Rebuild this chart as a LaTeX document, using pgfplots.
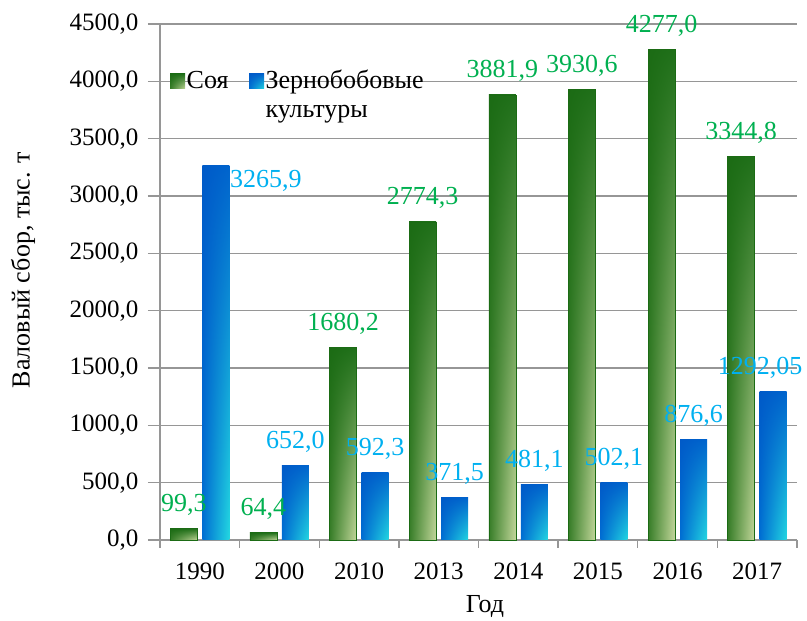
\documentclass[border=0pt]{standalone}
\usepackage{fontspec}
\setmainfont{Liberation Serif}
\usepackage{pgfplots}
\pgfplotsset{compat=1.18}
\usepackage{pgfplotstable}

\definecolor{gridgray}{RGB}{150,150,150}
\definecolor{lblgreen}{RGB}{0,176,80}
\definecolor{lblblue}{RGB}{0,176,240}
\definecolor{gDark}{RGB}{27,107,20}

% bilinear shadings: stack t s -> channel
\pgfdeclarefunctionalshading{greenbar}{\pgfpoint{-50bp}{-50bp}}{\pgfpoint{50bp}{50bp}}{}{
  25 add 50 div exch 25 add 50 div
  2 copy mul -0.530 mul 2 index -0.110 mul add 1 index 0.549 mul add 0.216 add 3 1 roll
  2 copy mul -0.334 mul 2 index -0.070 mul add 1 index 0.353 mul add 0.490 add 3 1 roll
  2 copy mul -0.427 mul 2 index -0.079 mul add 1 index 0.451 mul add 0.157 add 3 1 roll
  pop pop
}
\pgfdeclarefunctionalshading{bluebar}{\pgfpoint{-50bp}{-50bp}}{\pgfpoint{50bp}{50bp}}{}{
  25 add 50 div exch 25 add 50 div
  2 copy mul -0.137 mul 2 index 0.000 mul add 1 index 0.137 mul add 0.000 add 3 1 roll
  2 copy mul -0.373 mul 2 index -0.078 mul add 1 index 0.412 mul add 0.431 add 3 1 roll
  2 copy mul -0.038 mul 2 index -0.040 mul add 1 index 0.058 mul add 0.824 add 3 1 roll
  pop pop
}

\pgfplotstableread{
x y lab
0 99.3 99,3
1 64.4 64,4
2 1680.2 1680,2
3 2774.3 2774,3
4 3881.9 3881,9
5 3930.6 3930,6
6 4277.0 4277,0
7 3344.8 3344,8
}\soy

\pgfplotstableread{
x y lab
0 3265.9 3265,9
1 652.0 652,0
2 592.3 592,3
3 371.5 371,5
4 481.1 481,1
5 502.1 502,1
6 876.6 876,6
7 1292.05 1292,05
}\legumes

\pgfplotsset{
  soybar/.style={ybar, bar width=27pt, bar shift=-16pt, draw=gDark, line width=0.6pt,
    shading=greenbar, forget plot, point meta=explicit symbolic,
    nodes near coords={\pgfplotspointmeta},
    nodes near coords style={font=\rmfamily\fontsize{26}{30}\selectfont, text=lblgreen, anchor=base, xshift=-16pt, yshift=17pt}},
  legbar/.style={ybar, bar width=27pt, bar shift=16pt, draw=none,
    shading=bluebar, forget plot, point meta=explicit symbolic,
    nodes near coords={\pgfplotspointmeta},
    nodes near coords style={font=\rmfamily\fontsize{26}{30}\selectfont, text=lblblue, anchor=base, xshift=16pt, yshift=17pt}},
}

\begin{document}
\begin{tikzpicture}
\begin{axis}[
  scale only axis,
  width=637pt, height=516pt,
  ymin=0, ymax=4500, ytick={0,500,...,4500},
  xmin=-0.5, xmax=7.5,
  xtick={0,...,7},
  xticklabels={1990,2000,2010,2013,2014,2015,2016,2017},
  major x tick style={draw=none},
  minor xtick={-0.5,0.5,...,7.5},
  minor x tick style={draw=gridgray, line width=1.3pt},
  minor tick length=8pt,
  major tick length=12pt,
  tick align=outside,
  ytick style={draw=gridgray, line width=1.3pt},
  axis x line*=bottom, axis y line*=left,
  axis line style={draw=gridgray, line width=1.3pt, -},
  ymajorgrids,
  grid style={draw=gridgray, line width=1.3pt},
  yticklabel={\pgfmathprintnumber[assume math mode=true, fixed, fixed zerofill, precision=1, use comma, 1000 sep={}]{\tick}},
  /pgf/number format/assume math mode=true,
  tick label style={font=\rmfamily\fontsize{25}{30}\selectfont},
  yticklabel style={xshift=-6pt},
  xticklabel style={yshift=-7pt},
  xlabel={Год}, ylabel={Валовый сбор, тыс. т},
  label style={font=\rmfamily\fontsize{26}{31}\selectfont},
  xlabel style={at={(axis description cs:0.51,0)}, anchor=base, yshift=-73pt},
  ylabel style={at={(axis description cs:-0.215,0.523)}, anchor=center, rotate=0},
  clip=false,
  legend columns=2,
  legend style={draw=none, fill=none, inner sep=0pt,
    at={(axis description cs:0.0157,0.917)}, anchor=north west,
    font=\rmfamily\fontsize{26}{29}\selectfont,
    nodes={inner sep=1.5pt},
    cells={anchor=base west},
    /tikz/column 2/.style={column sep=19pt}},
  legend image code/.code={\path[#1, draw=none] (0pt,0pt) rectangle (15pt,15pt);},
]
\addlegendimage{shading=greenbar}
\addlegendentry{Соя}
\addlegendimage{shading=bluebar}
\addlegendentry{\begin{tabular}[t]{@{}l@{}}Зернобобовые\\культуры\end{tabular}}

\pgfplotsinvokeforeach{0,...,7}{
  \addplot[soybar, x filter/.expression={x==#1 ? x : nan}]
    table[x=x, y=y, meta=lab] {\soy};
}
\pgfplotsinvokeforeach{1,...,6}{
  \addplot[legbar, x filter/.expression={x==#1 ? x : nan}]
    table[x=x, y=y, meta=lab] {\legumes};
}
\addplot[legbar, x filter/.expression={x==0 ? x : nan},
  nodes near coords style={xshift=50pt, yshift=-38.5pt}]
  table[x=x, y=y, meta=lab] {\legumes};
\addplot[legbar, x filter/.expression={x==7 ? x : nan},
  nodes near coords style={xshift=-13pt}]
  table[x=x, y=y, meta=lab] {\legumes};
\end{axis}
\pgfresetboundingbox
\path (-160pt,-81pt) rectangle (647pt,540pt);
\end{tikzpicture}
\end{document}
